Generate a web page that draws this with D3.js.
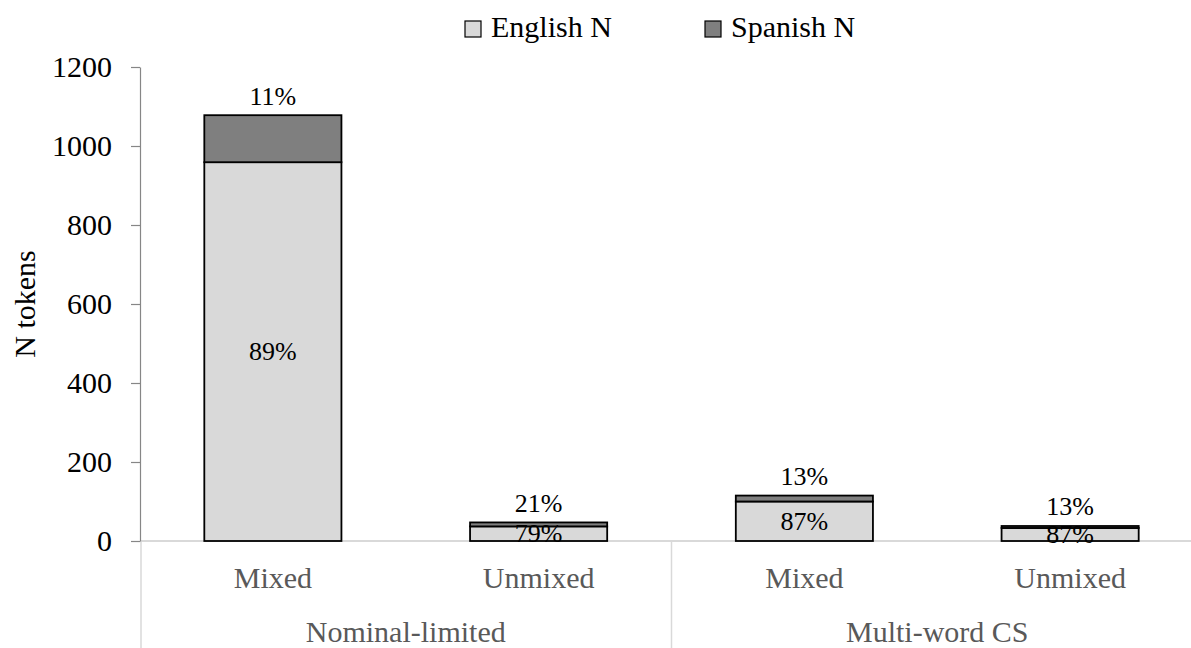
<!DOCTYPE html>
<html>
<head>
<meta charset="utf-8">
<script src="https://cdn.jsdelivr.net/npm/d3@7"></script>
<style>
  html, body { margin: 0; padding: 0; background: #fff; }
  svg { display: block; font-family: "Liberation Serif", "Times New Roman", serif; }
</style>
</head>
<body>
<svg id="chart" width="1191" height="648"></svg>
<script>
// Token counts per context, split by language of the noun
const groups = ["Nominal-limited", "Multi-word CS"];
const contexts = ["Mixed", "Unmixed"];
const englishN = [959, 37, 100, 33];
const spanishN = [119, 10, 15, 5];
const seriesNames = ["English N", "Spanish N"];
const seriesColors = ["#d9d9d9", "#7f7f7f"];
const yTicks = [0, 200, 400, 600, 800, 1000, 1200];

const bars = [];
groups.forEach((g, gi) => contexts.forEach((c, ci) => {
  const i = gi * contexts.length + ci;
  bars.push({ key: g + "|" + c, group: g, context: c, en: englishN[i], es: spanishN[i] });
}));

const svg = d3.select("#chart");
const margin = { left: 140, top: 67, bottom: 541 };
const plotRight = 1203;

const x = d3.scaleBand()
  .domain(bars.map(d => d.key))
  .range([margin.left, plotRight])
  .paddingInner(0.484)
  .paddingOuter(0.242);

const y = d3.scaleLinear().domain([0, 1200]).range([margin.bottom, margin.top]);

// Category separators below the baseline
const sepX = [margin.left + 1, margin.left + (plotRight - margin.left) / 2, plotRight];
svg.append("g").selectAll("line").data(sepX).join("line")
  .attr("x1", d => d).attr("x2", d => d)
  .attr("y1", y(0)).attr("y2", 648)
  .attr("stroke", "#d9d9d9").attr("stroke-width", 1.5);

// Baseline
svg.append("line")
  .attr("x1", margin.left).attr("x2", 1191)
  .attr("y1", y(0)).attr("y2", y(0))
  .attr("stroke", "#d9d9d9").attr("stroke-width", 2);

// Y axis
const yAxis = svg.append("g")
  .attr("transform", `translate(${margin.left},0)`)
  .call(d3.axisLeft(y).tickValues(yTicks).tickFormat(d3.format("d"))
    .tickSize(9).tickPadding(19).tickSizeOuter(0));
yAxis.select(".domain").attr("stroke", "#868686").attr("stroke-width", 1.2);
yAxis.selectAll(".tick line").attr("stroke", "#868686").attr("stroke-width", 1.2);
yAxis.selectAll(".tick text")
  .attr("font-family", "Liberation Serif").attr("font-size", 30).attr("fill", "#000");

// Axis title
svg.append("text")
  .attr("transform", "translate(35,304) rotate(-90)")
  .attr("text-anchor", "middle")
  .attr("font-size", 30).attr("fill", "#000")
  .text("N tokens");

// Stacked bars
const barG = svg.append("g");
bars.forEach(d => {
  const x0 = x(d.key), w = x.bandwidth();
  barG.append("rect")
    .attr("x", x0).attr("width", w)
    .attr("y", y(d.en)).attr("height", y(0) - y(d.en))
    .attr("fill", seriesColors[0]).attr("stroke", "#000").attr("stroke-width", 1.8);
  barG.append("rect")
    .attr("x", x0).attr("width", w)
    .attr("y", y(d.en + d.es)).attr("height", y(d.en) - y(d.en + d.es))
    .attr("fill", seriesColors[1]).attr("stroke", "#000").attr("stroke-width", 1.8);
});

// Percentage labels
const labelG = svg.append("g").attr("font-size", 26).attr("fill", "#000").attr("text-anchor", "middle");
bars.forEach(d => {
  const total = d.en + d.es;
  const cx = x(d.key) + x.bandwidth() / 2;
  labelG.append("text")
    .attr("x", cx).attr("y", (y(0) + y(d.en)) / 2)
    .attr("dominant-baseline", "central")
    .text(Math.round(d.en / total * 100) + "%");
  labelG.append("text")
    .attr("x", cx).attr("y", y(total) - 19)
    .attr("dominant-baseline", "central")
    .text(Math.round(d.es / total * 100) + "%");
});

// Context and group labels
svg.append("g").selectAll("text").data(bars).join("text")
  .attr("x", d => x(d.key) + x.bandwidth() / 2)
  .attr("y", 588)
  .attr("text-anchor", "middle")
  .attr("font-size", 30).attr("fill", "#595959")
  .text(d => d.context);

const groupW = (plotRight - margin.left) / groups.length;
svg.append("g").selectAll("text").data(groups).join("text")
  .attr("x", (d, i) => margin.left + groupW * (i + 0.5))
  .attr("y", 642)
  .attr("text-anchor", "middle")
  .attr("font-size", 30).attr("fill", "#595959")
  .text(d => d);

// Legend
const legendX = [465, 705];
const legend = svg.append("g");
seriesNames.forEach((name, i) => {
  legend.append("rect")
    .attr("x", legendX[i]).attr("y", 21).attr("width", 16).attr("height", 16)
    .attr("fill", seriesColors[i]).attr("stroke", "#000").attr("stroke-width", 1.2);
  legend.append("text")
    .attr("x", legendX[i] + 26).attr("y", 37)
    .attr("font-size", 30).attr("fill", "#000")
    .text(name);
});
</script>
</body>
</html>
